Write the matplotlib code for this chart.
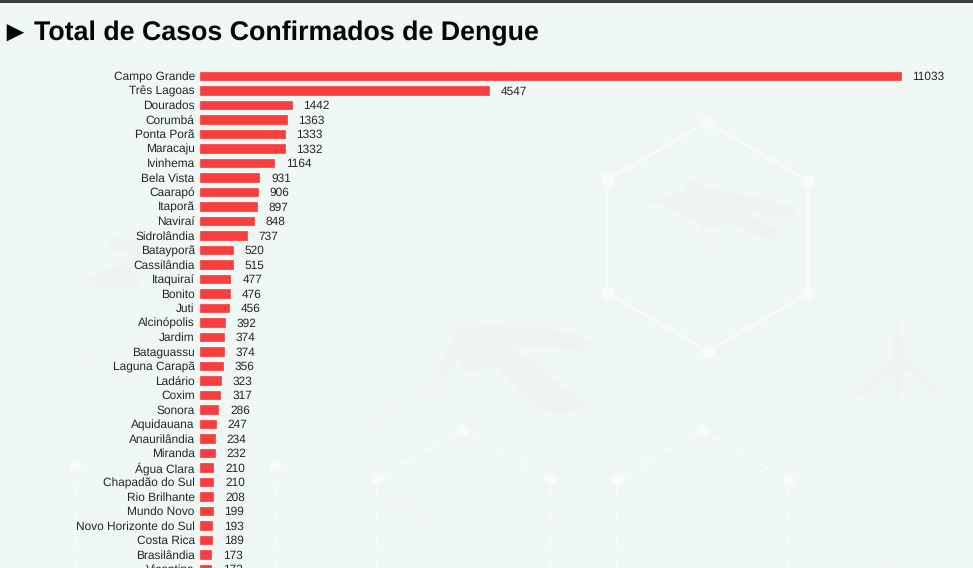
import matplotlib
matplotlib.use("Agg")
from matplotlib import pyplot as plt
from matplotlib.patches import Polygon, Rectangle

# data
cities = ["Campo Grande", "Três Lagoas", "Dourados", "Corumbá", "Ponta Porã", "Maracaju",
          "Ivinhema", "Bela Vista", "Caarapó", "Itaporã", "Naviraí", "Sidrolândia",
          "Batayporã", "Cassilândia", "Itaquiraí", "Bonito", "Juti", "Alcinópolis",
          "Jardim", "Bataguassu", "Laguna Carapã", "Ladário", "Coxim", "Sonora",
          "Aquidauana", "Anaurilândia", "Miranda", "Água Clara", "Chapadão do Sul",
          "Rio Brilhante", "Mundo Novo", "Novo Horizonte do Sul", "Costa Rica",
          "Brasilândia", "Vicentina"]
cases = [11033, 4547, 1442, 1363, 1333, 1332, 1164, 931, 906, 897, 848, 737, 520, 515,
         477, 476, 456, 392, 374, 374, 356, 323, 317, 286, 247, 234, 232, 210, 210,
         208, 199, 193, 189, 173, 172]
title = "Total de Casos Confirmados de Dengue"

W, H = 973, 568
BG = "#eff8f4"
BRIGHT = "#f7fcf9"
FAINT = "#f2f7f4"
BUG = "#eff3f1"
BUG_LEG = "#f0f5f2"

# background picture, in pixels
bright_hex = [(707, 122), (808, 181), (808, 294), (708, 351), (607, 293), (607, 180)]
faint_hexes = [
    [(484, 236), (623, 317), (623, 477), (483, 555), (342, 477), (342, 317), (484, 236)],
    [(423, 390), (478, 420), (478, 483), (423, 513), (370, 483), (370, 420), (423, 390)],
    [(900, 287), (970, 325), (970, 405), (900, 446), (830, 405), (830, 325), (900, 287)],
    [(747, 568), (822, 526), (896, 568)],
    [(0, 42), (72, 83), (72, 155), (0, 195)],
    [(140, 193), (62, 237), (62, 340), (140, 385)],
    [(100, 350), (0, 407)],
    [(75, 465), (175, 407), (275, 465)],
]
dash_nodes = [(75, 465), (275, 465), (377, 478), (463, 430), (550, 479), (617, 479), (702, 431), (788, 480)]
dash_zigzag = [[(377, 478), (463, 430), (550, 479)], [(617, 479), (702, 431), (788, 480)]]
dash_drops = [75, 275, 377, 550, 617, 788]

bug_bodies = [
    [(650, 202), (677, 195), (690, 182), (707, 188), (793, 207), (793, 217), (737, 210), (777, 230),
     (772, 240), (753, 232), (730, 223), (703, 228), (687, 215), (670, 207)],
    [(437, 370), (460, 330), (487, 326), (567, 332), (590, 342), (583, 350), (533, 347), (507, 342),
     (540, 370), (583, 402), (573, 413), (550, 412), (517, 387), (495, 365), (480, 370), (467, 372),
     (457, 360), (443, 375)],
    [(898, 320), (903, 350), (901, 385), (898, 405), (895, 385), (893, 350)],
    [(893, 360), (897, 367), (862, 394), (857, 393)],
    [(903, 356), (940, 391), (936, 394), (900, 364)],
    [(107, 237), (140, 243), (140, 255), (112, 250)],
    [(88, 277), (130, 262), (140, 285), (100, 287)],
]
bug_legs = [
    [(668, 208), (668, 235), (650, 262), (617, 280)],
    [(668, 225), (660, 260), (640, 282)],
    [(700, 228), (725, 270), (760, 288)],
    [(745, 228), (760, 265), (790, 295)],
    [(760, 250), (795, 265)],
    [(700, 228), (708, 258)],
    [(440, 360), (400, 335), (397, 300)],
    [(437, 363), (380, 358)],
    [(437, 372), (390, 380)],
    [(455, 380), (420, 400), (372, 428)],
    [(480, 370), (462, 440), (445, 480)],
    [(517, 387), (515, 430), (545, 490)],
    [(550, 412), (570, 428), (620, 432)],
    [(460, 328), (462, 312), (475, 328), (483, 312), (490, 326)],
    [(505, 326), (513, 310), (523, 326)],
    [(893, 365), (845, 367)],
    [(903, 365), (965, 367)],
    [(893, 375), (860, 410)],
    [(903, 375), (935, 410)],
]

plt.rcParams["font.family"] = ["Liberation Sans", "DejaVu Sans"]
plt.rcParams["text.hinting"] = "no_hinting"

fig = plt.figure(figsize=(W / 100, H / 100), dpi=100, facecolor=BG)

# full size axes working in pixels for the backdrop
bg = fig.add_axes([0, 0, 1, 1], zorder=0)
bg.set_xlim(0, W)
bg.set_ylim(H, 0)
bg.axis("off")

for leg in bug_legs:
    bg.plot(*zip(*leg), color=BUG_LEG, lw=1.0, solid_capstyle="round")
for body in bug_bodies:
    bg.add_patch(Polygon(body, closed=True, facecolor=BUG, edgecolor=BUG, lw=1, joinstyle="round"))

for pts in faint_hexes:
    bg.plot(*zip(*pts), color=FAINT, lw=1.4)
bg.add_patch(Polygon(bright_hex, closed=True, fill=False, edgecolor=BRIGHT, lw=2))
bg.scatter(*zip(*bright_hex), s=100, color=BRIGHT, linewidths=0, zorder=3)

for pts in dash_zigzag:
    bg.plot(*zip(*pts), color=BRIGHT, lw=1.4, ls=(0, (6, 8)))
for x in dash_drops:
    bg.plot([x, x], [485, H], color=BRIGHT, lw=1.4, ls=(0, (6, 7)))
bg.scatter(*zip(*dash_nodes), s=70, color=BRIGHT, linewidths=0, zorder=3)

# dark strip of the window on top
bg.add_patch(Rectangle((0, 0), W, 3, facecolor="#3b3e41", edgecolor="none"))

bg.text(0, 31, "►", fontsize=21, fontweight="bold", color="#050505", va="center_baseline", ha="left")
bg.text(34, 31, title, fontsize=19.22, fontweight="bold", color="#050505", va="center_baseline", ha="left")

# chart axes: zero at x=200, rows 14.5 px apart, first row at y=76
x0, x_end = 200, W
y_bottom = H + 24
row = 14.5
px_per_case = (900.5 - 200) / cases[0]
ax = fig.add_axes([x0 / W, 1 - y_bottom / H, (x_end - x0) / W, y_bottom / H], zorder=1)
ax.patch.set_alpha(0)
ax.set_xlim(0, (x_end - x0) / px_per_case)
ax.set_ylim((y_bottom - 76) / row, -76 / row)

y = list(range(len(cities)))
bars = ax.barh(y, cases, height=0.62, color="#f93e3e", edgecolor="#f93e3e", lw=0.5)
for b in bars:
    b.set_joinstyle("round")

ax.set_yticks(y)
ax.set_yticklabels(cities, fontsize=8.6, color="#262626")
ax.tick_params(axis="y", length=0, pad=3.8)
ax.set_xticks([])
for s in ax.spines.values():
    s.set_visible(False)

for yy, v in zip(y, cases):
    ax.annotate(str(v), (v, yy), xytext=(8.6, 0), textcoords="offset points",
                fontsize=8.6, color="#262626", va="center_baseline", ha="left", annotation_clip=False)

fig.savefig("out.png", dpi=100, facecolor=BG)
